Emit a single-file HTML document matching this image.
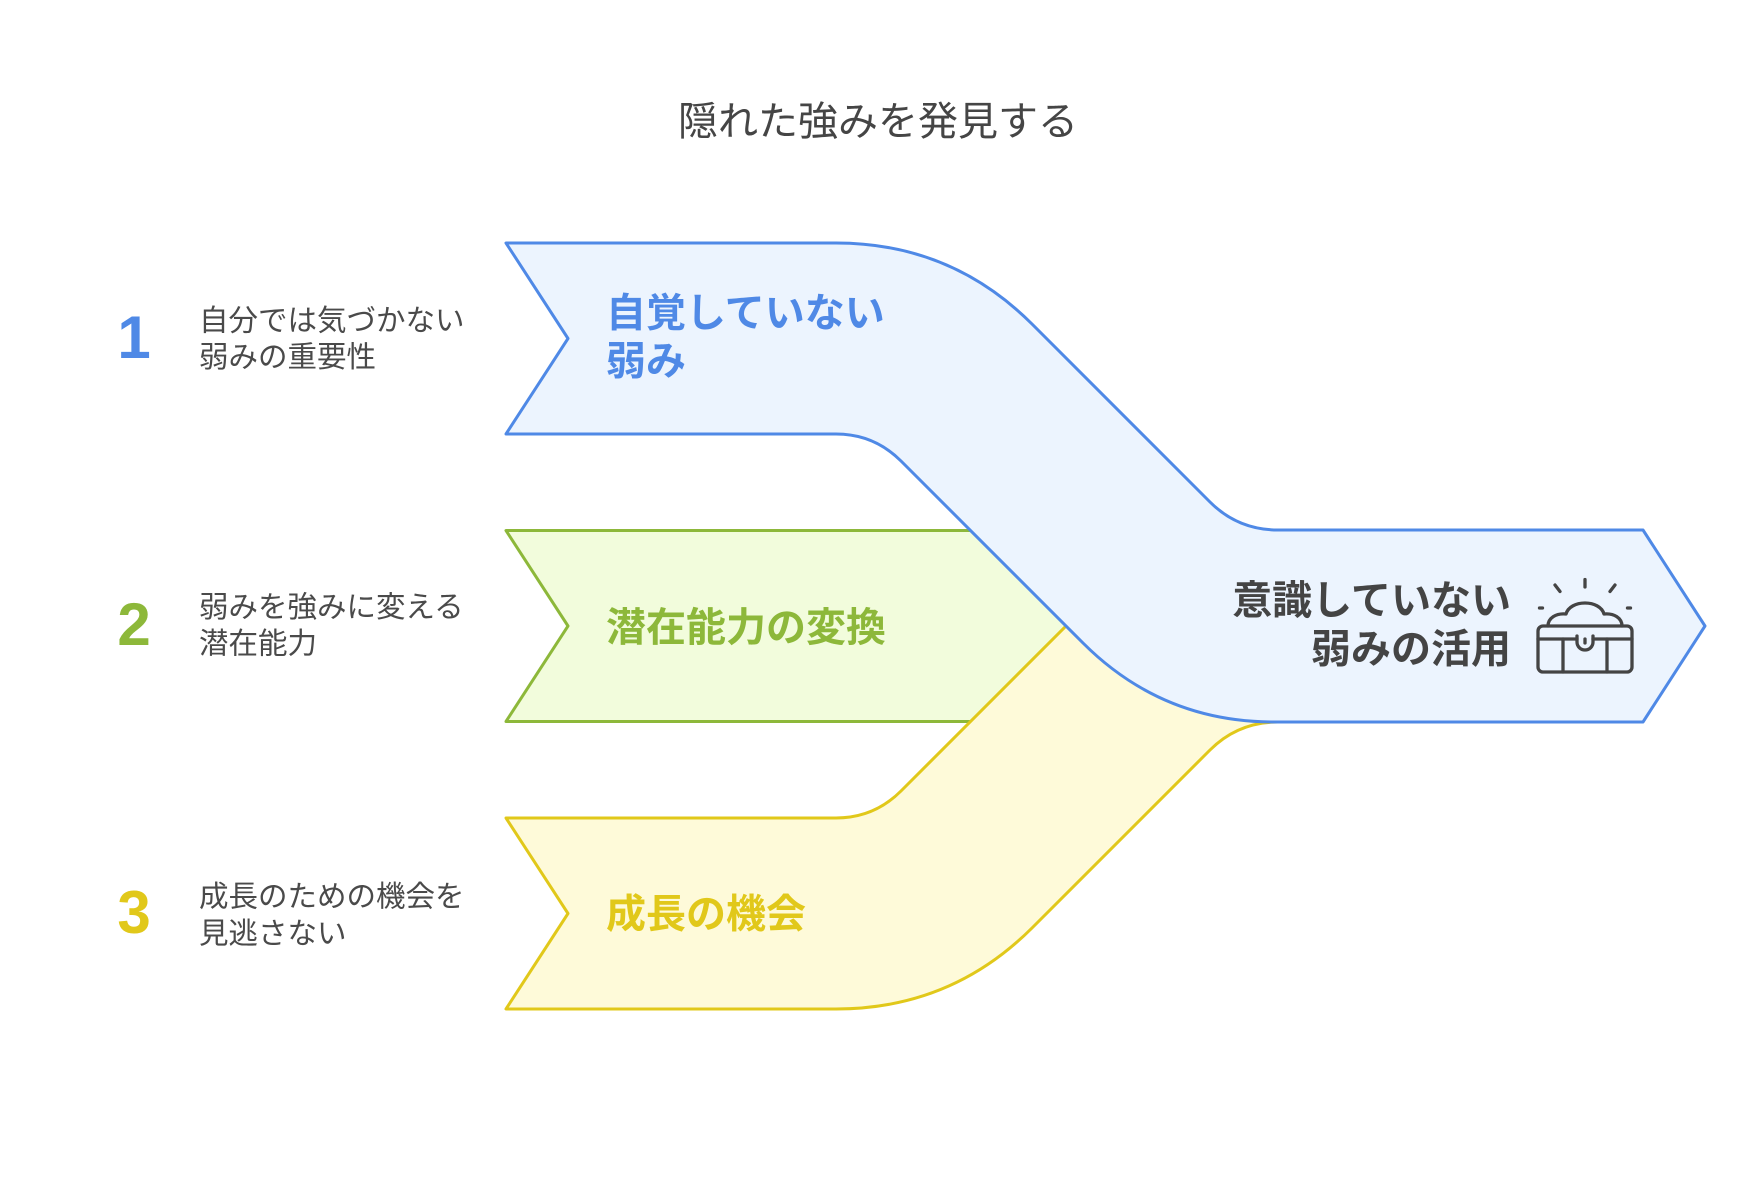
<!DOCTYPE html>
<html>
<head>
<meta charset="utf-8">
<style>
  html, body { margin:0; padding:0; background:#ffffff; }
  body { width:1758px; height:1204px; overflow:hidden; }
  svg { display:block; }
  text { font-family: "Liberation Sans", "Noto Sans CJK JP", sans-serif; }
  .cjk { font-family: "Liberation Sans", "Noto Sans CJK JP", sans-serif; }
</style>
</head>
<body>
<svg width="1758" height="1204" viewBox="0 0 1758 1204" xmlns="http://www.w3.org/2000/svg">
  <rect x="0" y="0" width="1758" height="1204" fill="#ffffff"/>

  <!-- Title -->
  <text x="878" y="135" text-anchor="middle" font-size="40" fill="#454545" class="cjk">隠れた強みを発見する</text>

  <!-- Green band (bottom layer) -->
  <path d="M 506 530.5 L 1150 530.5 L 1150 721.5 L 506 721.5 L 568 626 Z"
        fill="#f2fcdc" stroke="#8db83a" stroke-width="3" stroke-linejoin="round"/>

  <!-- Yellow band -->
  <path d="M 506 1009 L 836 1009 Q 951 1009 1032 928 L 1210 750 Q 1238 722 1278 722 L 1600 722 L 1600 530 L 1274 530 Q 1162 530 1083 609 L 901 791 Q 874 818 836 818 L 506 818 L 568 913.5 Z"
        fill="#fefad9" stroke="#e1c81a" stroke-width="3" stroke-linejoin="round"/>

  <!-- Blue band (top layer) -->
  <path d="M 506 243 L 836 243 Q 951 243 1032 324 L 1210 502 Q 1238 530 1278 530 L 1643 530 L 1705 626 L 1643 722 L 1274 722 Q 1162 722 1083 643 L 901 461 Q 874 434 836 434 L 506 434 L 568 338.5 Z"
        fill="#ecf4fe" stroke="#4f89e6" stroke-width="3" stroke-linejoin="round"/>

  <!-- Numbers -->
  <text x="134" y="358" text-anchor="middle" font-size="60" font-weight="700" fill="#4f89e6">1</text>
  <text x="134" y="645" text-anchor="middle" font-size="60" font-weight="700" fill="#8db83a">2</text>
  <text x="134" y="933" text-anchor="middle" font-size="60" font-weight="700" fill="#e1c81a">3</text>

  <!-- Left labels -->
  <g font-size="29.5" fill="#4a4a4a" class="cjk">
    <text x="199" y="330.5">自分では気づかない</text>
    <text x="199" y="367">弱みの重要性</text>
    <text x="199" y="617">弱みを強みに変える</text>
    <text x="199" y="653.5">潜在能力</text>
    <text x="199" y="906.5">成長のための機会を</text>
    <text x="199" y="943.5">見逃さない</text>
  </g>

  <!-- Band labels -->
  <g font-size="40" font-weight="700" class="cjk">
    <text x="606" y="326.5" fill="#4f89e6">自覚していない</text>
    <text x="606" y="374.5" fill="#4f89e6">弱み</text>
    <text x="606" y="641" fill="#8db83a">潜在能力の変換</text>
    <text x="606" y="927.5" fill="#e1c81a">成長の機会</text>
    <text x="1511" y="614" text-anchor="end" fill="#444444">意識していない</text>
    <text x="1511" y="662.5" text-anchor="end" fill="#444444">弱みの活用</text>
  </g>

  <!-- Treasure chest icon -->
  <g fill="none" stroke="#444444" stroke-width="3.3" stroke-linecap="round" stroke-linejoin="round">
    <line x1="1585" y1="579.5" x2="1585" y2="587"/>
    <line x1="1555" y1="585" x2="1560" y2="591.5"/>
    <line x1="1615" y1="585" x2="1610" y2="591.5"/>
    <line x1="1539.5" y1="608" x2="1542.5" y2="608"/>
    <line x1="1627.5" y1="608" x2="1630.5" y2="608"/>
    <path d="M1548 626 C1548 618 1556 613 1566 614 C1568 607 1576 603 1585 603 C1594 603 1602 607 1604 614 C1614 613 1622 618 1622 626"/>
    <rect x="1538" y="626" width="94" height="46" rx="5" ry="5"/>
    <line x1="1538" y1="639" x2="1577" y2="639"/>
    <line x1="1593" y1="639" x2="1632" y2="639"/>
    <line x1="1563" y1="639" x2="1563" y2="672"/>
    <line x1="1607" y1="639" x2="1607" y2="672"/>
    <path d="M1577 636 V642 A8 8 0 0 0 1593 642 V636"/>
    <line x1="1585" y1="639" x2="1585" y2="643"/>
  </g>
</svg>
</body>
</html>
